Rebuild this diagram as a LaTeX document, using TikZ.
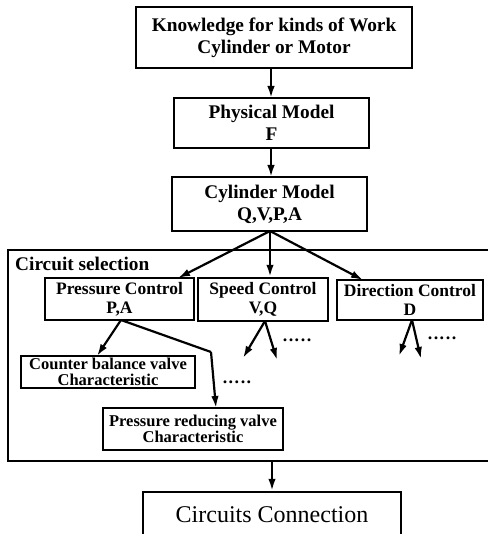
\documentclass[tikz,border=0pt]{standalone}
\usepackage{fontspec}
\setmainfont{Liberation Serif}
\usetikzlibrary{arrows.meta}
\newcommand{\fivedots}{.\kern1.5pt.\kern1.5pt.\kern1.5pt.\kern1.5pt.}
\begin{document}
\begin{tikzpicture}[x=1pt,y=-1pt,
  box/.style={draw,line width=2.4pt,inner sep=0pt,align=center},
  bigf/.style={font=\fontsize{19.3}{22}\selectfont\bfseries},
  ctlf/.style={font=\fontsize{17.5}{19}\selectfont\bfseries},
  valf/.style={font=\fontsize{16.5}{15.5}\selectfont\bfseries},
  dotsf/.style={font=\fontsize{18}{18}\selectfont\bfseries,inner sep=0pt},
  arr/.style={line width=2.2pt,-{Latex[length=12pt,width=7.5pt]}},
  ln/.style={line width=2.2pt}]
\useasboundingbox (0,0) rectangle (487,534);
\node[box,bigf,minimum width=276pt,minimum height=61pt] (know) at (274,37.5) {Knowledge for kinds of Work\\Cylinder or Motor};
\node[box,bigf,minimum width=195pt,minimum height=50pt] (phys) at (271.5,123) {Physical Model\\F};
\node[box,bigf,minimum width=195pt,minimum height=54pt] (cyl) at (269.5,204) {Cylinder Model\\Q,V,P,A};
\node[box,minimum width=481pt,minimum height=211pt] (frame) at (248.5,355.5) {};
\node[bigf,anchor=base west,inner sep=0pt] (cslab) at (15,270) {Circuit selection};
\node[box,ctlf,minimum width=149pt,minimum height=42pt] (pc) at (119.5,299) {Pressure Control\\P,A};
\node[box,ctlf,minimum width=130pt,minimum height=43pt] (sc) at (263,299.5) {Speed Control\\V,Q};
\node[box,ctlf,minimum width=146pt,minimum height=40pt] (dc) at (410,300) {Direction Control\\D};
\node[box,valf,minimum width=174pt,minimum height=32pt] (cb) at (108,372) {Counter balance valve\\Characteristic};
\node[box,valf,minimum width=180pt,minimum height=42pt] (pr) at (193,429) {Pressure reducing valve\\Characteristic};
\node[box,font=\fontsize{24}{26}\selectfont,minimum width=258pt,minimum height=46pt] (cc) at (272,515) {Circuits Connection};
\node[dotsf] (d1) at (237,382) {\fivedots};
\node[dotsf] (d2) at (297,340) {\fivedots};
\node[dotsf] (d3) at (442,338) {\fivedots};
\coordinate (c0) at (270,231);
\coordinate (p0) at (121,320);
\coordinate (bend) at (211,352);
\coordinate (s0) at (265,321);
\coordinate (s1) at (243,358);
\coordinate (s2) at (277,360);
\coordinate (r0) at (412,320);
\coordinate (r1) at (399,356);
\coordinate (r2) at (421,359);
\draw[arr] (271,68) -- (271,98);
\draw[arr] (271,148) -- (271,177);
\draw[arr] (c0) -- (178,278);
\draw[arr] (c0) -- (c0 |- sc.north);
\draw[arr] (c0) -- (363,280);
\draw[arr] (p0) -- (97,356);
\draw[ln] (p0) -- (bend);
\draw[arr] (bend) -- (216,408);
\draw[arr] (s0) -- (s1);
\draw[arr] (s0) -- (s2);
\draw[arr] (r0) -- (r1);
\draw[arr] (r0) -- (r2);
\draw[arr] (cc.north |- frame.south) -- (cc.north);
\end{tikzpicture}
\end{document}
